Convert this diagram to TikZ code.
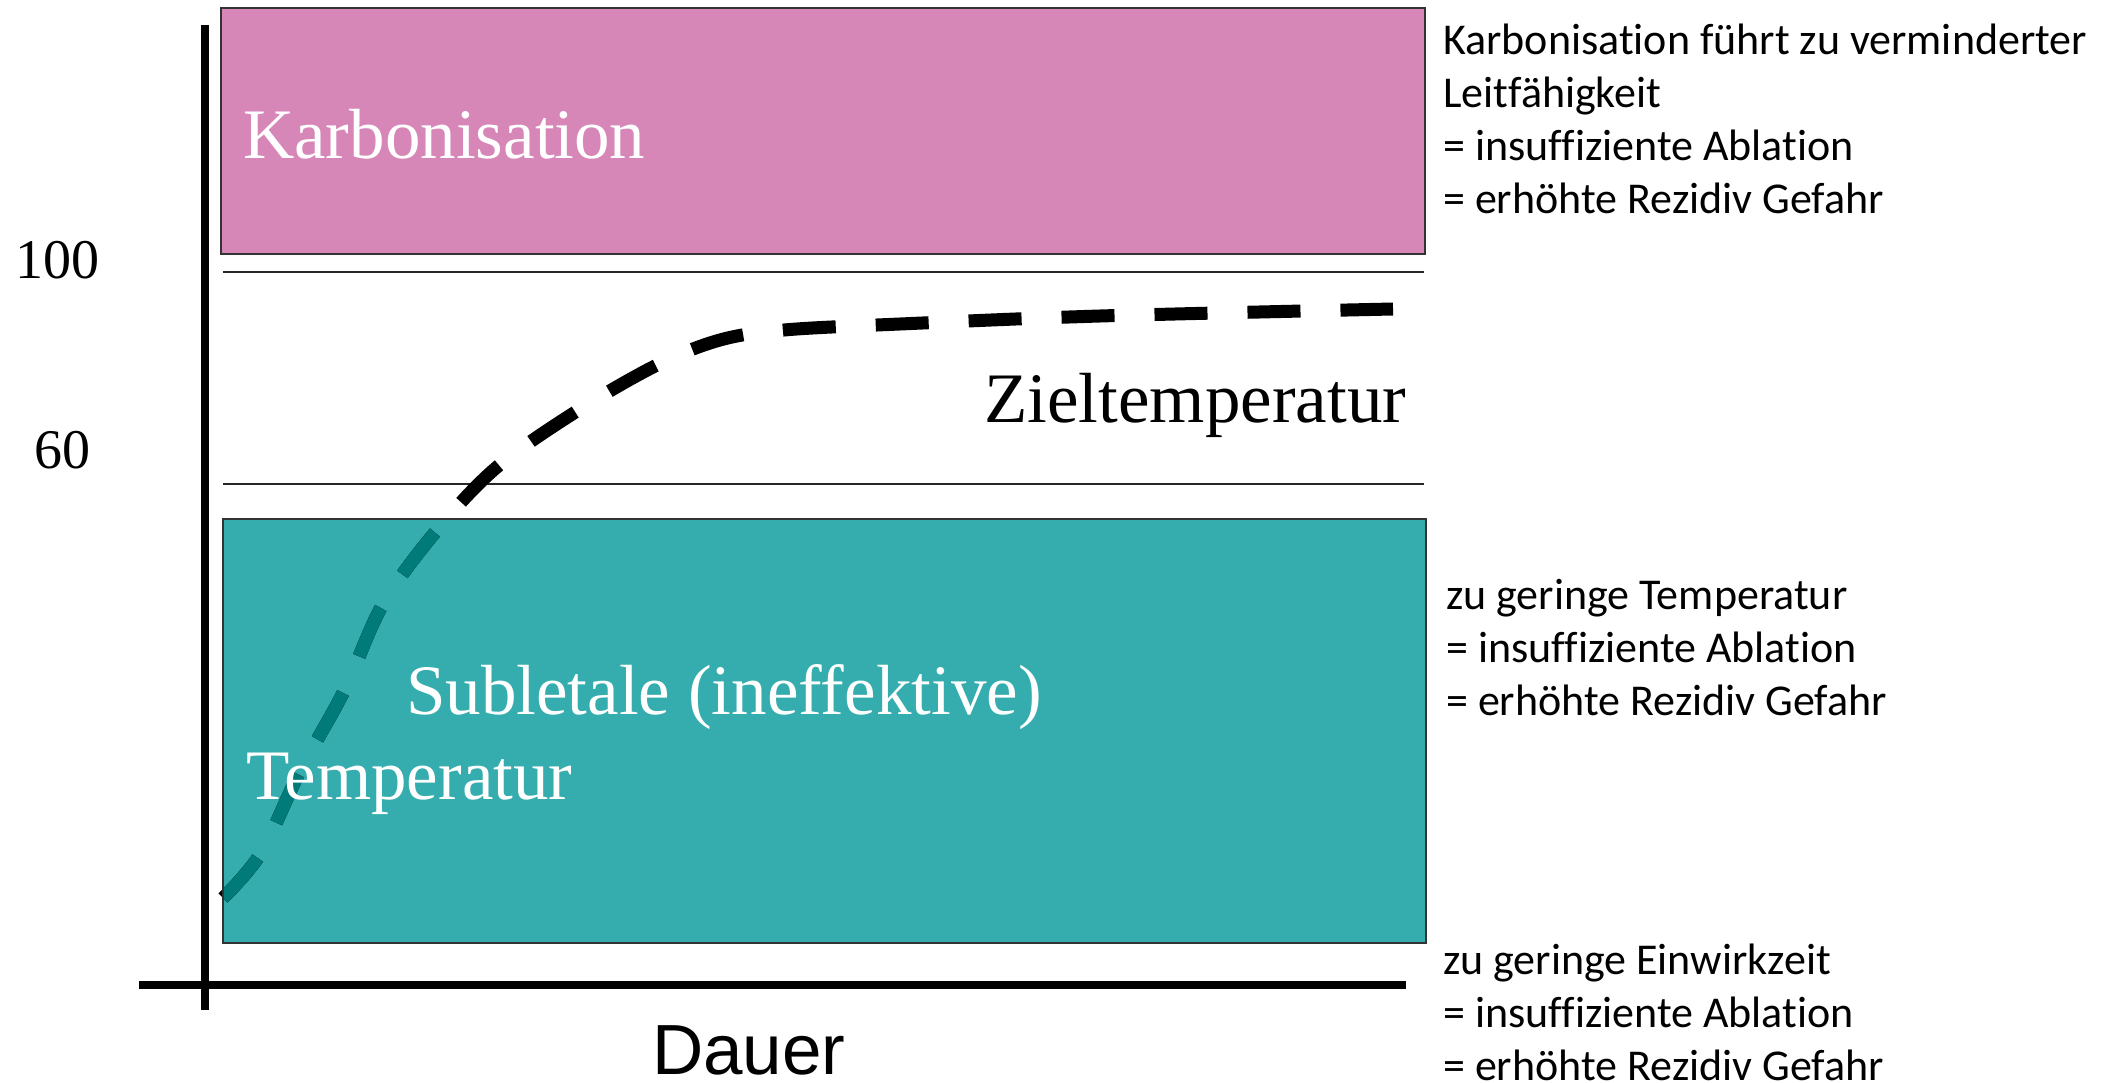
\documentclass[tikz,border=0pt]{standalone}
\usepackage{fontspec}
\setmainfont{Liberation Serif}
\newfontfamily\calfont[Ligatures={NoCommon}]{Carlito}
\newfontfamily\arialfont{Liberation Sans}
\definecolor{pinkbox}{HTML}{D687B8}
\definecolor{tealbox}{HTML}{35ADAE}
\definecolor{tealdark}{HTML}{007B79}
\begin{document}
\begin{tikzpicture}[x=1pt,y=-1pt]
\tikzset{
  band/.style={draw=black!80, line width=2pt},
  sepline/.style={draw=black!85, line width=2pt},
  axisline/.style={line width=7.5pt, black},
  curve/.style={line width=13pt, dash pattern=on 53pt off 40pt},
  bigw/.style={font=\fontsize{71}{85}\selectfont, text=white, inner sep=0pt, anchor=base west},
  bigb/.style={font=\fontsize{71}{85}\selectfont, text=black, inner sep=0pt, anchor=base west},
  note/.style={font=\fontsize{44}{53}\selectfont\calfont, inner sep=0pt, anchor=base west},
  ticklabel/.style={font=\fontsize{56}{67}\selectfont, inner sep=0pt},
}
\useasboundingbox (0,0) rectangle (2111,1083);
\def\curvepath{plot[smooth, tension=0.55] coordinates {(223,898) (261,853) (300,771) (344,691) (383,604) (437,530) (497,467) (577,411) (657,365) (720,340) (784,330) (900,324) (1100,316) (1393,309)}}
% bands
\fill[pinkbox] (221,8) rectangle (1425,254);
\draw[band] (221,8) rectangle (1425,254);
\draw[sepline] (223,272) -- (1424,272);
\draw[sepline] (223,484) -- (1424,484);
\fill[tealbox] (223,519) rectangle (1426,943);
% curve
\draw[curve, black] \curvepath;
\begin{scope}
  \clip (223,519) rectangle (1426,943);
  \draw[curve, tealdark] \curvepath;
\end{scope}
\draw[band] (223,519) rectangle (1426,943);
% axes
\coordinate (ytop) at (205,25);
\coordinate (ybot) at (205,1010);
\coordinate (xleft) at (139,985);
\coordinate (xright) at (1406,985);
\draw[axisline] (ytop) -- (ybot);
\draw[axisline] (xleft) -- (xright);
% labels
\node[ticklabel] (t100) at (57,260) {100};
\node[ticklabel] (t60) at (62,450) {60};
\node[bigw] (karb) at (243,159) {Karbonisation};
\node[bigb] (ziel) at (984,422) {Zieltemperatur};
\node[bigw] (subl) at (406,714) {Subletale (ineffektive)};
\node[bigw] (temp) at (246,799) {Temperatur};
\node[font=\fontsize{71}{85}\selectfont\arialfont, inner sep=0pt, anchor=base west] (dauer) at (652,1074) {Dauer};
\node[note] (n1) at (1443,55) {\begin{tabular}[t]{@{}l@{}}Karbonisation führt zu verminderter\\Leitfähigkeit\\= insuffiziente Ablation\\= erhöhte Rezidiv Gefahr\end{tabular}};
\node[note] (n2) at (1446,609) {\begin{tabular}[t]{@{}l@{}}zu geringe Temperatur\\= insuffiziente Ablation\\= erhöhte Rezidiv Gefahr\end{tabular}};
\node[note] (n3) at (1443,974) {\begin{tabular}[t]{@{}l@{}}zu geringe Einwirkzeit\\= insuffiziente Ablation\\= erhöhte Rezidiv Gefahr\end{tabular}};
\end{tikzpicture}
\end{document}
